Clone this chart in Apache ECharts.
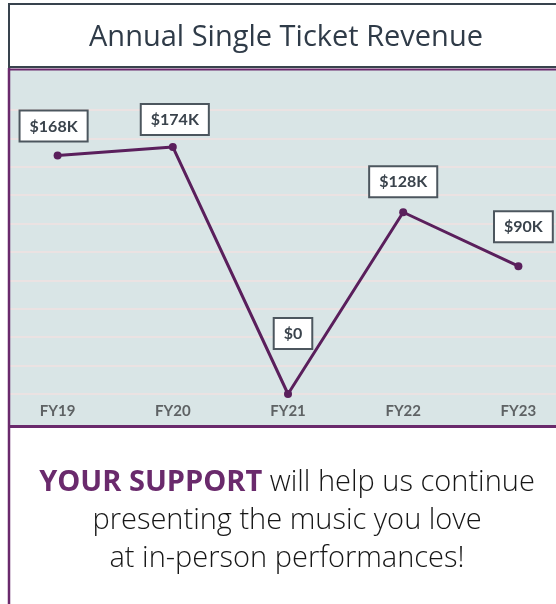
<!DOCTYPE html>
<html>
<head>
<meta charset="utf-8">
<script src="https://cdn.jsdelivr.net/npm/echarts@6/dist/echarts.min.js"></script>
<style>
html,body{margin:0;padding:0;background:#fff;}
#main{width:556px;height:604px;}
</style>
</head>
<body>
<div id="main"></div>
<script>
// 数据
var years = ['FY19', 'FY20', 'FY21', 'FY22', 'FY23'];
var revenue = [168, 174, 0, 128, 90]; // 单位: 千美元
var revenueText = ['$168K', '$174K', '$0', '$128K', '$90K'];

// 标签偏移 (样式)
var labelShift = [[-4, -11], [2, -9], [5, -42], [0, -12], [5, -21]];

var purple = '#6a2a6c';
var lineColor = '#5a1f5c';
var slate = '#38434d';

function buildData() {
	var d = [];
	for (var i = 0; i < revenue.length; i++) {
		d.push({
			value: revenue[i],
			label: { offset: labelShift[i] }
		});
	}
	return d;
}

var myChart = echarts.init(document.getElementById('main'));

var option = {
	animation: false,
	grid: {
		left: 0,
		right: -20,
		top: 110,
		bottom: 210,
		outerBoundsMode: 'none'
	},
	xAxis: {
		type: 'category',
		data: years,
		boundaryGap: true,
		axisLine: { show: false },
		axisTick: { show: false },
		axisLabel: {
			margin: 10,
			fontFamily: 'Lato',
			fontWeight: 'bold',
			fontSize: 15,
			color: '#5e6264'
		}
	},
	yAxis: {
		type: 'value',
		min: 0,
		max: 200,
		interval: 20,
		z: 2,
		axisLabel: { show: false },
		axisLine: { show: false },
		axisTick: { show: false },
		splitLine: {
			show: true,
			lineStyle: { color: '#ebe2e2', width: 2 }
		}
	},
	series: [{
		type: 'line',
		data: buildData(),
		symbol: 'circle',
		symbolSize: 8,
		itemStyle: { color: lineColor },
		lineStyle: { color: lineColor, width: 3 },
		z: 5,
		label: {
			show: true,
			position: 'top',
			distance: 0,
			formatter: function (p) { return revenueText[p.dataIndex]; },
			fontFamily: 'Lato',
			fontWeight: 'bold',
			fontSize: 16,
			color: '#3a434c',
			backgroundColor: '#ffffff',
			borderColor: '#4c565e',
			borderWidth: 2,
			padding: [7, 9, 6, 9]
		}
	}],
	graphic: [
		// 图表背景
		{ type: 'rect', z: -100, shape: { x: 10, y: 70, width: 546, height: 356 }, style: { fill: '#d9e5e6' } },
		// 左侧留白遮挡
		{ type: 'rect', z: 100, shape: { x: 0, y: 0, width: 8, height: 604 }, style: { fill: '#ffffff' } },
		// 标题框
		{ type: 'line', z: 100, shape: { x1: 8, y1: 4, x2: 556, y2: 4 }, style: { stroke: slate, lineWidth: 2 } },
		{ type: 'line', z: 100, shape: { x1: 9, y1: 3, x2: 9, y2: 68 }, style: { stroke: slate, lineWidth: 2 } },
		{ type: 'line', z: 100, shape: { x1: 8, y1: 67, x2: 556, y2: 67 }, style: { stroke: slate, lineWidth: 2 } },
		{ type: 'line', z: 100, shape: { x1: 8, y1: 69.5, x2: 556, y2: 69.5 }, style: { stroke: purple, lineWidth: 2 } },
		// 紫色边框
		{ type: 'line', z: 100, shape: { x1: 9, y1: 68, x2: 9, y2: 604 }, style: { stroke: purple, lineWidth: 2.5 } },
		{ type: 'line', z: 100, shape: { x1: 8, y1: 426.5, x2: 556, y2: 426.5 }, style: { stroke: purple, lineWidth: 3 } },
		// 标题
		{
			type: 'text', z: 100, x: 286, y: 38,
			style: {
				text: 'Annual Single Ticket Revenue',
				fill: '#2f3b48',
				font: '400 29px "Open Sans"',
				align: 'center',
				verticalAlign: 'middle'
			}
		},
		// 底部文字
		{
			type: 'text', z: 100, x: 287, y: 521,
			style: {
				text: '{b|YOUR SUPPORT} will help us continue\npresenting the music you love\nat in-person performances!',
				fill: '#161616',
				font: '300 29px "Open Sans"',
				lineHeight: 38,
				align: 'center',
				verticalAlign: 'middle',
				rich: {
					b: { fill: purple, font: 'bold 29px "Open Sans"', lineHeight: 38 }
				}
			}
		}
	]
};
myChart.setOption(option);
</script>
</body>
</html>
